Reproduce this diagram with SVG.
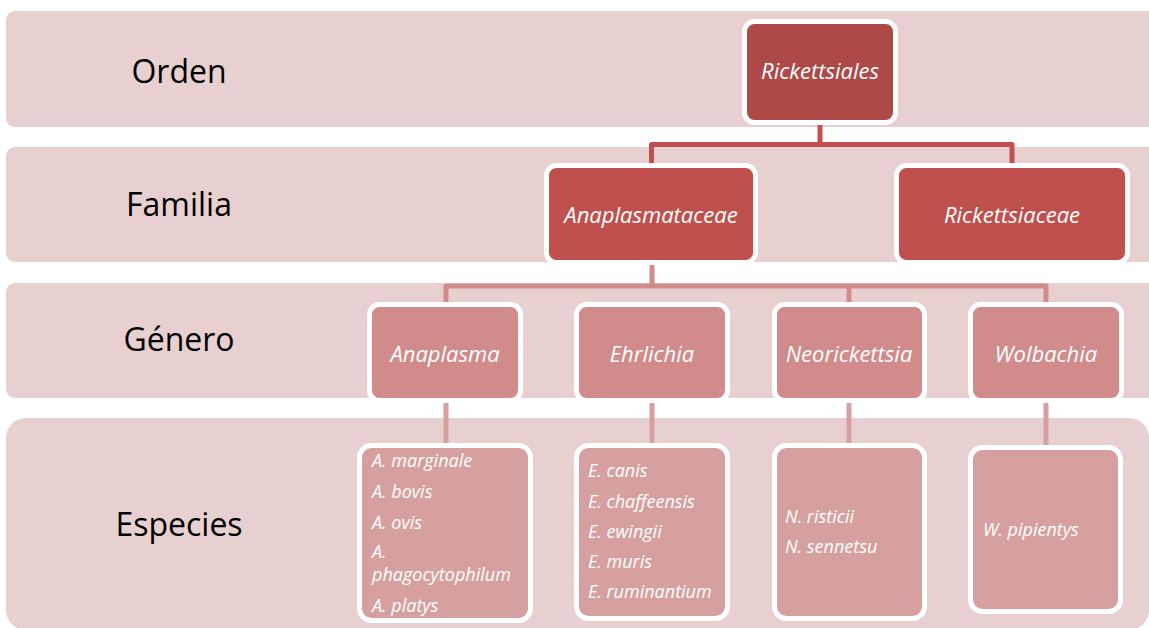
<svg xmlns="http://www.w3.org/2000/svg" width="1149" height="628" viewBox="0 0 1149 628">
<style>
.band{fill:#e8d0d1}
.lvl{font-family:"Open Sans","Liberation Sans",sans-serif;font-size:32px;fill:#000;text-anchor:middle}
.box{stroke:#fff;stroke-width:5}
.n0{fill:#ad4a47}
.n1{fill:#c0504d}
.n2{fill:#d08b8a}
.n3{fill:#d6a0a0}
.t{font-family:"Open Sans","Liberation Sans",sans-serif;font-style:italic;fill:#fff;font-size:22px;text-anchor:middle}
.s{font-family:"Open Sans","Liberation Sans",sans-serif;font-style:italic;fill:#fff;font-size:18px}
.c{fill:none;stroke-width:5;stroke-linejoin:round}
</style>
<rect width="1149" height="628" fill="#fff"/>
<g id="bands">
<rect class="band" x="6" y="11" width="1160" height="116" rx="9"/>
<rect class="band" x="6" y="147" width="1160" height="115" rx="9"/>
<rect class="band" x="6" y="283" width="1160" height="115" rx="9"/>
<rect class="band" x="6" y="418" width="1143" height="212" rx="20"/>
</g>
<g id="levels">
<text class="lvl" x="179" y="83">Orden</text>
<text class="lvl" x="179" y="216">Familia</text>
<text class="lvl" x="179" y="351">Género</text>
<text class="lvl" x="179" y="536">Especies</text>
</g>
<g id="connectors">
<path class="c" stroke="#c0504d" d="M820 122V144.5M651.5 166V144.5H1012V166"/>
<path class="c" stroke="#d08b8a" d="M652 263V286M446 304V286H1046V304M849 286V304"/>
<path class="c" stroke="#d6a0a0" d="M446 402V446M652 402V446M849 402V446M1046 402V448"/>
</g>
<g id="rickettsiales">
<rect class="box n0" x="744.5" y="21.5" width="151" height="101" rx="10"/>
<text class="t" x="820" y="79">Rickettsiales</text>
</g>
<g id="anaplasmataceae">
<rect class="box n1" x="546.5" y="165.5" width="209" height="97" rx="10"/>
<text class="t" x="651" y="223">Anaplasmataceae</text>
</g>
<g id="rickettsiaceae">
<rect class="box n1" x="896.5" y="165.5" width="231" height="97" rx="10"/>
<text class="t" x="1012" y="223">Rickettsiaceae</text>
</g>
<g id="anaplasma">
<rect class="box n2" x="369.5" y="304.5" width="151" height="96" rx="10"/>
<text class="t" x="445" y="362">Anaplasma</text>
</g>
<g id="ehrlichia">
<rect class="box n2" x="576.5" y="304.5" width="151" height="96" rx="10"/>
<text class="t" x="652" y="362">Ehrlichia</text>
</g>
<g id="neorickettsia">
<rect class="box n2" x="774.5" y="304.5" width="150" height="96" rx="10"/>
<text class="t" x="849" y="362">Neorickettsia</text>
</g>
<g id="wolbachia">
<rect class="box n2" x="970.5" y="304.5" width="151" height="96" rx="10"/>
<text class="t" x="1046" y="362">Wolbachia</text>
</g>
<g id="sp-anaplasma">
<rect class="box n3" x="359.5" y="445.5" width="171" height="175" rx="12"/>
<text class="s" x="372" y="467">A. marginale</text>
<text class="s" x="372" y="498">A. bovis</text>
<text class="s" x="372" y="529">A. ovis</text>
<text class="s" x="372" y="558">A.</text>
<text class="s" x="372" y="581">phagocytophilum</text>
<text class="s" x="372" y="612">A. platys</text>
</g>
<g id="sp-ehrlichia">
<rect class="box n3" x="576.5" y="445.5" width="151" height="173" rx="12"/>
<text class="s" x="588" y="477">E. canis</text>
<text class="s" x="588" y="508">E. chaffeensis</text>
<text class="s" x="588" y="538">E. ewingii</text>
<text class="s" x="588" y="568">E. muris</text>
<text class="s" x="588" y="598">E. ruminantium</text>
</g>
<g id="sp-neorickettsia">
<rect class="box n3" x="774.5" y="445.5" width="150" height="173" rx="12"/>
<text class="s" x="785" y="523">N. risticii</text>
<text class="s" x="785" y="553">N. sennetsu</text>
</g>
<g id="sp-wolbachia">
<rect class="box n3" x="970.5" y="447.5" width="150" height="164" rx="12"/>
<text class="s" x="983" y="536">W. pipientys</text>
</g>
</svg>
